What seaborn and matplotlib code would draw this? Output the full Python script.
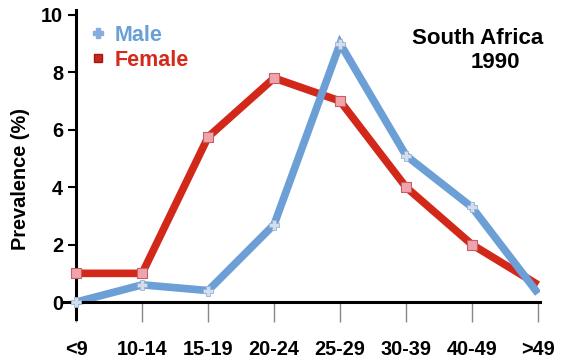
import matplotlib
matplotlib.use("Agg")
import matplotlib.pyplot as plt
import seaborn as sns
import pandas as pd
from matplotlib.lines import Line2D

categories = ["<9", "10-14", "15-19", "20-24", "25-29", "30-39", "40-49", ">49"]
male = [0.0, 0.6, 0.4, 2.7, 9.0, 5.1, 3.3, 0.3]
female = [1.0, 1.0, 5.75, 7.8, 7.0, 4.0, 2.0, 0.6]
yticks = [0, 2, 4, 6, 8, 10]

sns.set_theme(style="white")
plt.rcParams["font.family"] = ["Liberation Sans", "DejaVu Sans"]
plt.rcParams["font.weight"] = "bold"

blue = "#6b9fd6"
red = "#d2281a"

df = pd.DataFrame({
    "age": categories * 2,
    "pos": list(range(len(categories))) * 2,
    "value": male + female,
    "sex": ["Male"] * len(categories) + ["Female"] * len(categories),
})

W, H = 562, 358
fig = plt.figure(figsize=(W / 100, H / 100), dpi=100)
ax = fig.add_axes([63 / W, (H - 319) / H, (540 - 63) / W, (319 - 10) / H])

sns.lineplot(data=df, x="pos", y="value", hue="sex", hue_order=["Female", "Male"],
             palette={"Male": blue, "Female": red}, linewidth=5.5, sort=False,
             legend=False, ax=ax, solid_capstyle="butt", zorder=2)
for ln in ax.lines:
    ln.set_solid_joinstyle("miter")

last = categories[-1]
fem = df[(df.sex == "Female") & (df.age != last)]
mal = df[(df.sex == "Male") & (df.age != last)]
sns.scatterplot(data=fem, x="pos", y="value", marker="s", s=45, color="#f2a3aa",
                edgecolor="#c0606a", linewidth=0.8, legend=False, ax=ax, zorder=3)
sns.scatterplot(data=mal, x="pos", y="value", marker="P", s=50, color="#d3deec",
                edgecolor="#9ab3d3", linewidth=0.6, legend=False, ax=ax, zorder=4)

ax.set_xlim(-0.2, 7.03)
ax.set_ylim(-0.59, 10.17)
ax.spines["left"].set_position(("data", 0))
ax.spines["bottom"].set_position(("data", 0))
ax.spines["right"].set_visible(False)
ax.spines["top"].set_visible(False)
for s in ("left", "bottom"):
    ax.spines[s].set_color("black")
    ax.spines[s].set_linewidth(2.2)

ax.set_xticks(range(len(categories)))
ax.set_xticklabels(categories)
ax.set_yticks(yticks)
ax.set_yticklabels([str(t) for t in yticks])
ax.tick_params(axis="x", direction="out", length=14.4, width=1.0, color="#888888",
               pad=13, labelsize=14.3, bottom=True)
ax.tick_params(axis="y", direction="out", length=5.5, width=1.5, color="black",
               pad=4, labelsize=14.3, left=True)
for lab in ax.get_xticklabels() + ax.get_yticklabels():
    lab.set_fontweight("bold")
    lab.set_color("black")

ax.set_xlabel("")
ax.set_ylabel("")
fig.text(21 / W, 1 - 179 / H, "Prevalence (%)", rotation=90, ha="center", va="center",
         fontsize=14.4, fontweight="bold", color="black")

handles = [
    Line2D([], [], linestyle="none", marker="P", markersize=7.5, color="#86ade0",
           markeredgecolor="#86ade0"),
    Line2D([], [], linestyle="none", marker="s", markersize=6.0, color="#c8281c",
           markeredgecolor="#a01810"),
]
leg = ax.legend(handles, ["Male", "Female"], loc="upper left",
                bbox_to_anchor=(89 / W, 1 - 25 / H), bbox_transform=fig.transFigure,
                frameon=False, handlelength=0.8, handletextpad=0.4, borderpad=0,
                borderaxespad=0, labelspacing=0.18,
                prop={"size": 15.5, "weight": "bold"})
leg.get_texts()[0].set_color("#6a9fd8")
leg.get_texts()[1].set_color("#d42a1c")

fig.text(478 / W, 1 - 39 / H, "South Africa", ha="center", va="center",
         fontsize=16, fontweight="bold", color="black")
fig.text(495 / W, 1 - 63 / H, "1990", ha="center", va="center",
         fontsize=16, fontweight="bold", color="black")

fig.savefig("out.png", dpi=100)
